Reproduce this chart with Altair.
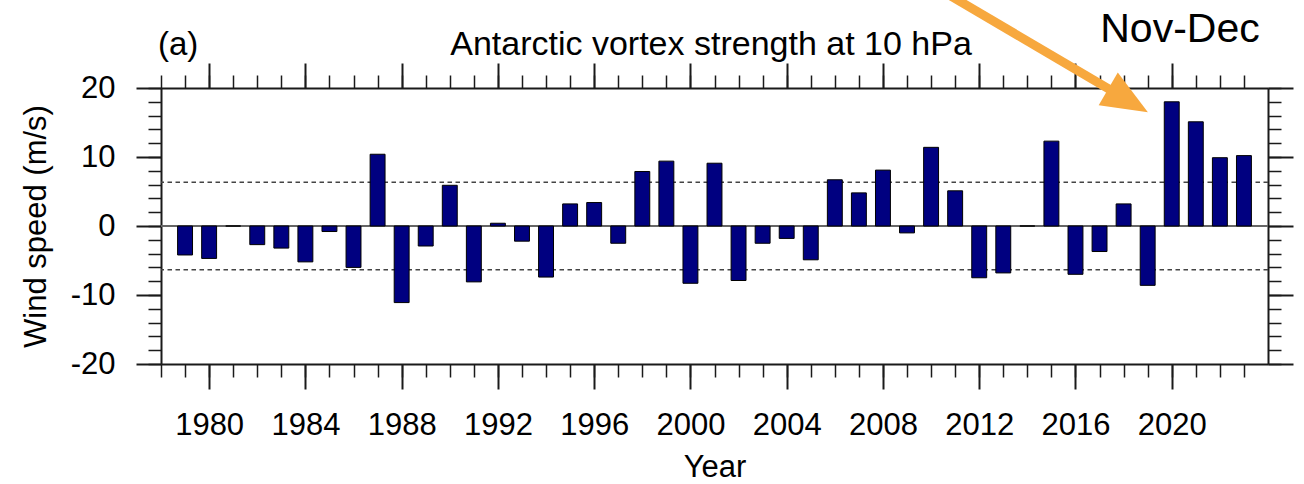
import altair as alt
import pandas as pd

FONT = "Liberation Sans"

# Nov-Dec mean zonal wind anomaly (m/s) at 10 hPa, one value per year
years = list(range(1979, 2024))
speed = [
    -4.2, -4.7, 0.0, -2.7, -3.2, -5.2, -0.8, -6.0, 10.4, -11.1, -2.9, 5.9, -8.1, 0.4, -2.2,
    -7.4, 3.2, 3.4, -2.5, 7.9, 9.4, -8.3, 9.1, -7.9, -2.5, -1.8, -4.9, 6.7, 4.8,
    8.1, -1.0, 11.4, 5.1, -7.5, -6.8, 0.0, 12.3, -7.0, -3.7, 3.2, -8.6, 18.0, 15.1, 9.9, 10.2,
]
# +/- one standard deviation guide lines
sd_levels = [6.35, -6.35]

# axis ticks
x_major = list(range(1980, 2021, 4))
x_minor = list(range(1978, 2024))
y_major = [-20, -10, 0, 10, 20]
y_minor = list(range(-20, 21, 2))

# arrow pointing at the 2020 bar (data coordinates)
arrow_tail = (2010.74, 33.5)
arrow_neck = (2017.75, 19.1)
arrow_tip = (2019.01, 16.5)

BAR_HALF = 0.31
df = pd.DataFrame({"year": years, "value": speed})
df["x0"] = df["year"] - BAR_HALF
df["x1"] = df["year"] + BAR_HALF
df["base"] = 0.0

xs = alt.Scale(domain=[1978, 2024], nice=False, zero=False)
ys = alt.Scale(domain=[-20, 20], nice=False, zero=False)

INK = "#1a1a1a"
common = dict(
    grid=False, domainColor=INK, domainWidth=2, tickColor=INK,
    labelFont=FONT, titleFont=FONT, labelColor="black", titleColor="black",
)


def axis(orient, values, major, labels=False, **kw):
    opts = dict(common)
    opts.update(
        orient=orient, values=values,
        tickSize=25 if major else 13,
        tickWidth=2 if major else 1.5,
        domain=major, labels=labels,
    )
    if not labels:
        opts["title"] = None
    opts.update(kw)
    return alt.Axis(**opts)


# labels use a plain hyphen for negatives
bars = alt.Chart(df).mark_bar(color="#000080", stroke="black", strokeWidth=1).encode(
    x=alt.X("x0:Q", scale=xs, axis=axis(
        "bottom", x_major, True, labels=True, labelExpr="datum.value + ''",
        labelFontSize=31, labelPadding=21,
        title="Year", titleFontSize=31, titleFontWeight="normal",
        titleX=553.5, titleY=112, titleBaseline="alphabetic", titleAlign="center",
    )),
    x2="x1:Q",
    y=alt.Y("value:Q", scale=ys, axis=axis(
        "left", y_major, True, labels=True, labelExpr="datum.value + ''",
        labelFontSize=31, labelPadding=21,
        title="Wind speed (m/s)", titleFontSize=31, titleFontWeight="normal",
        titleX=-125, titleY=138, titleAngle=270, titleBaseline="middle", titleAlign="center",
    )),
    y2="base:Q",
)

zero = alt.Chart(pd.DataFrame({"level": [0.0]})).mark_rule(
    color="#666666", strokeWidth=2
).encode(y=alt.Y("level:Q", scale=ys, axis=None))

dashed = alt.Chart(pd.DataFrame({"level": sd_levels})).mark_rule(
    color="#444444", strokeWidth=1.5, strokeDash=[4.5, 3.5]
).encode(y=alt.Y("level:Q", scale=ys, axis=None))

frame = pd.DataFrame({"year": [1978, 2024], "value": [-20, 20]})


def tick_layer(xa, ya):
    return alt.Chart(frame).mark_point(opacity=0).encode(
        x=alt.X("year:Q", scale=xs, axis=xa),
        y=alt.Y("value:Q", scale=ys, axis=ya),
    )


ticks_a = tick_layer(axis("top", x_major, True), axis("right", y_major, True))
ticks_b = tick_layer(axis("bottom", x_minor, False), axis("left", y_minor, False))
ticks_c = tick_layer(axis("top", x_minor, False), axis("right", y_minor, False))

titles = pd.DataFrame({
    "label": ["Antarctic vortex strength at 10 hPa", "(a)", "Nov-Dec"],
})

title_main = alt.Chart(titles.iloc[[0]]).mark_text(
    font=FONT, fontSize=34, align="center", baseline="alphabetic", color="black"
).encode(text="label:N", x=alt.value(550), y=alt.value(-33))

title_tag = alt.Chart(titles.iloc[[1]]).mark_text(
    font=FONT, fontSize=33, align="left", baseline="alphabetic", color="black"
).encode(text="label:N", x=alt.value(-3), y=alt.value(-33))

title_season = alt.Chart(titles.iloc[[2]]).mark_text(
    font=FONT, fontSize=41, align="center", baseline="alphabetic", color="black"
).encode(text="label:N", x=alt.value(1019), y=alt.value(-46))

ORANGE = "#F7A83E"
shaft_df = pd.DataFrame({
    "x": [arrow_tail[0]], "y": [arrow_tail[1]],
    "x2": [arrow_neck[0]], "y2": [arrow_neck[1]],
})
shaft = alt.Chart(shaft_df).mark_rule(color=ORANGE, strokeWidth=9, strokeCap="butt").encode(
    x=alt.X("x:Q", scale=xs, axis=None), y=alt.Y("y:Q", scale=ys, axis=None),
    x2="x2:Q", y2="y2:Q",
)
head_df = pd.DataFrame({"x": [arrow_tip[0]], "y": [arrow_tip[1]]})
head = alt.Chart(head_df).mark_point(
    shape="M0,0L-2,-0.82L-2,0.82Z", filled=True, fill=ORANGE,
    opacity=1, size=2116, angle=30.4,
).encode(
    x=alt.X("x:Q", scale=xs, axis=None), y=alt.Y("y:Q", scale=ys, axis=None),
)

chart = alt.layer(
    ticks_b, ticks_c, ticks_a, zero, dashed, bars,
    title_main, title_tag, title_season, shaft, head,
).resolve_axis(x="independent", y="independent").properties(
    width=1107, height=276,
    autosize=alt.AutoSizeParams(type="none"),
    padding={"left": 161, "top": 88, "right": 36, "bottom": 120},
).configure_view(stroke=None).configure(background="white")

chart.save("out.html", embed_options={"renderer": "svg", "actions": False})
